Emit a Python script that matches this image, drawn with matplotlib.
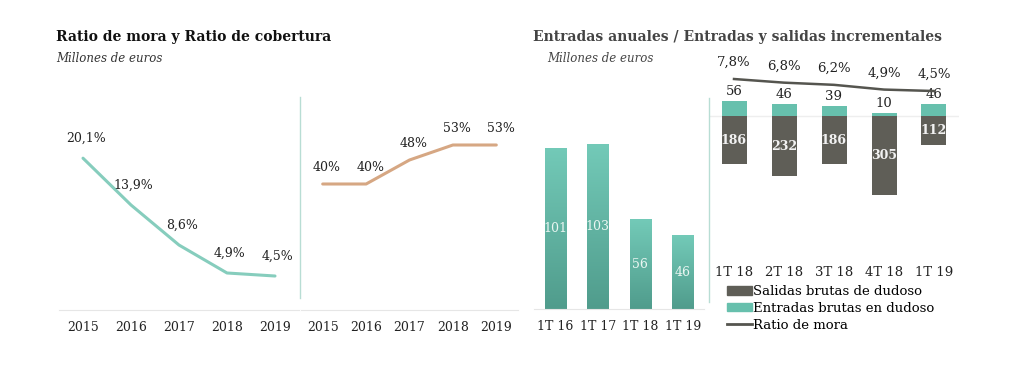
import numpy as np
import matplotlib
matplotlib.use("Agg")
import matplotlib.pyplot as plt
from matplotlib.lines import Line2D
from matplotlib.patches import Patch

plt.rcParams['font.family'] = ['DejaVu Serif']

# data
years = ['2015', '2016', '2017', '2018', '2019']
mora = [20.1, 13.9, 8.6, 4.9, 4.5]
cobertura = [40, 40, 48, 53, 53]

annual_q = ['1T 16', '1T 17', '1T 18', '1T 19']
annual_in = [101, 103, 56, 46]

quarters = ['1T 18', '2T 18', '3T 18', '4T 18', '1T 19']
entradas = [56, 46, 39, 10, 46]
salidas = [186, 232, 186, 305, 112]
ratio_q = [7.8, 6.8, 6.2, 4.9, 4.5]

W, H = 1011, 390
fig = plt.figure(figsize=(W / 100, H / 100), dpi=100)


def box(l, t, r, b):
    # pixel box -> figure coords
    return [l / W, 1 - b / H, (r - l) / W, (b - t) / H]


def pct(v, dec=True):
    return (f"{v:.1f}".replace('.', ',') if dec else f"{v:.0f}") + '%'


def clean(ax, baseline=True):
    for s in ['top', 'right', 'left']:
        ax.spines[s].set_visible(False)
    ax.spines['bottom'].set_visible(baseline)
    ax.spines['bottom'].set_color('#e6e6e6')
    ax.set_yticks([])
    ax.tick_params(axis='x', length=0, pad=8, labelsize=9, colors='#222222')


teal_line = '#86cdbd'
tan_line = '#d6a783'
dark = '#5f5e57'

# --- ratio de mora
ax1 = fig.add_axes(box(59, 97, 299, 310))
x = np.arange(len(years))
ax1.plot(x, mora, color=teal_line, lw=2.2, solid_capstyle='round')
for xi, v in zip(x, mora):
    ax1.annotate(pct(v), (xi, v), xytext=(2, 14), textcoords='offset points',
                 ha='center', va='center', fontsize=9, color='#222222')
ax1.set_xlim(-0.5, 4.5)
ax1.set_ylim(0, 28.2)
ax1.set_xticks(x, years)
clean(ax1)

# --- ratio de cobertura
ax2 = fig.add_axes(box(301, 97, 518, 310))
ax2.plot(x, cobertura, color=tan_line, lw=2.2, solid_capstyle='round')
for xi, v in zip(x, cobertura):
    ax2.annotate(pct(v, False), (xi, v), xytext=(3, 12), textcoords='offset points',
                 ha='center', va='center', fontsize=9, color='#222222')
ax2.set_xlim(-0.5, 4.5)
ax2.set_ylim(-2, 69)
ax2.set_xticks(x, years)
clean(ax2)

# --- entradas anuales
ax3 = fig.add_axes(box(534, 98, 704, 309))
xa = np.arange(len(annual_q))
bars = ax3.bar(xa, annual_in, width=0.5, color='none', edgecolor='none')
ax3.set_xlim(-0.5, 3.5)
ax3.set_ylim(0, 132)
grad = np.linspace(1, 0, 256).reshape(-1, 1)
cmap = matplotlib.colors.LinearSegmentedColormap.from_list('g', ['#509c8c', '#73cab8'])
for b, v in zip(bars, annual_in):
    im = ax3.imshow(grad, cmap=cmap, aspect='auto', origin='upper',
                    extent=[b.get_x(), b.get_x() + b.get_width(), 0, v], zorder=2)
    im.set_clip_path(b)
    ax3.text(b.get_x() + b.get_width() / 2, v / 2, str(v), ha='center', va='center',
             fontsize=9, color='#eaf6f2', zorder=3)
ax3.set_xticks(xa, annual_q)
clean(ax3)

# --- entradas y salidas incrementales
ax4 = fig.add_axes(box(709, 60, 959, 260))
xq = np.arange(len(quarters))
ax4.axhline(0, color='#eeeeee', lw=1, zorder=0)
b_in = ax4.bar(xq, entradas, width=0.5, color='#67c0ad', zorder=2)
b_out = ax4.bar(xq, [-v for v in salidas], width=0.5, color=dark, zorder=2)
for b, v in zip(b_in, entradas):
    ax4.annotate(str(v), (b.get_x() + b.get_width() / 2, v), xytext=(0, 7),
                 textcoords='offset points', ha='center', va='center',
                 fontsize=9.5, color='#222222')
for b, v in zip(b_out, salidas):
    ax4.text(b.get_x() + b.get_width() / 2, -v / 2, str(v), ha='center', va='center',
             fontsize=9, color='#f2f2f2', fontweight='bold', zorder=3)
ax4.set_xlim(-0.5, 4.5)
ax4.set_ylim(-554, 215)
ax4.set_xticks(xq, quarters)
clean(ax4, baseline=False)
ax4.tick_params(axis='x', pad=4, labelsize=9.5)

ax4b = ax4.twinx()
ax4b.plot(xq, ratio_q, color='#55554f', lw=1.8)
for xi, v in zip(xq, ratio_q):
    ax4b.annotate(pct(v), (xi, v), xytext=(0, 12), textcoords='offset points',
                  ha='center', va='center', fontsize=9.5, color='#222222')
ax4b.set_ylim(-41.9, 13.02)
ax4b.set_axis_off()

handles = [Patch(color=dark), Patch(color='#67c0ad'), Line2D([], [], color='#55554f', lw=2)]
labels = ['Salidas brutas de dudoso', 'Entradas brutas en dudoso', 'Ratio de mora']
fig.legend(handles, labels, loc='upper left', bbox_to_anchor=(727 / W, 1 - 285 / H),
           frameon=False, fontsize=9.5, handlelength=1.9, handleheight=0.6,
           handletextpad=0.1, labelspacing=0.3, borderpad=0, borderaxespad=0)

# dividers
fig.add_artist(Line2D([300 / W, 300 / W], [1 - 97 / H, 1 - 298 / H], color='#b8ddd4', lw=1))
fig.add_artist(Line2D([709 / W, 709 / W], [1 - 98 / H, 1 - 302 / H], color='#b8ddd4', lw=1))

# titles
fig.text(56 / W, 1 - 37 / H, 'Ratio de mora y Ratio de cobertura', fontsize=10,
         fontweight='bold', color='#111111', va='center')
fig.text(56 / W, 1 - 58 / H, 'Millones de euros', fontsize=8.5, style='italic',
         color='#333333', va='center')
fig.text(533 / W, 1 - 37 / H, 'Entradas anuales / Entradas y salidas incrementales',
         fontsize=10, fontweight='bold', color='#444444', va='center')
fig.text(547 / W, 1 - 58 / H, 'Millones de euros', fontsize=8.5, style='italic',
         color='#444444', va='center')

fig.savefig('out.png', dpi=100)
